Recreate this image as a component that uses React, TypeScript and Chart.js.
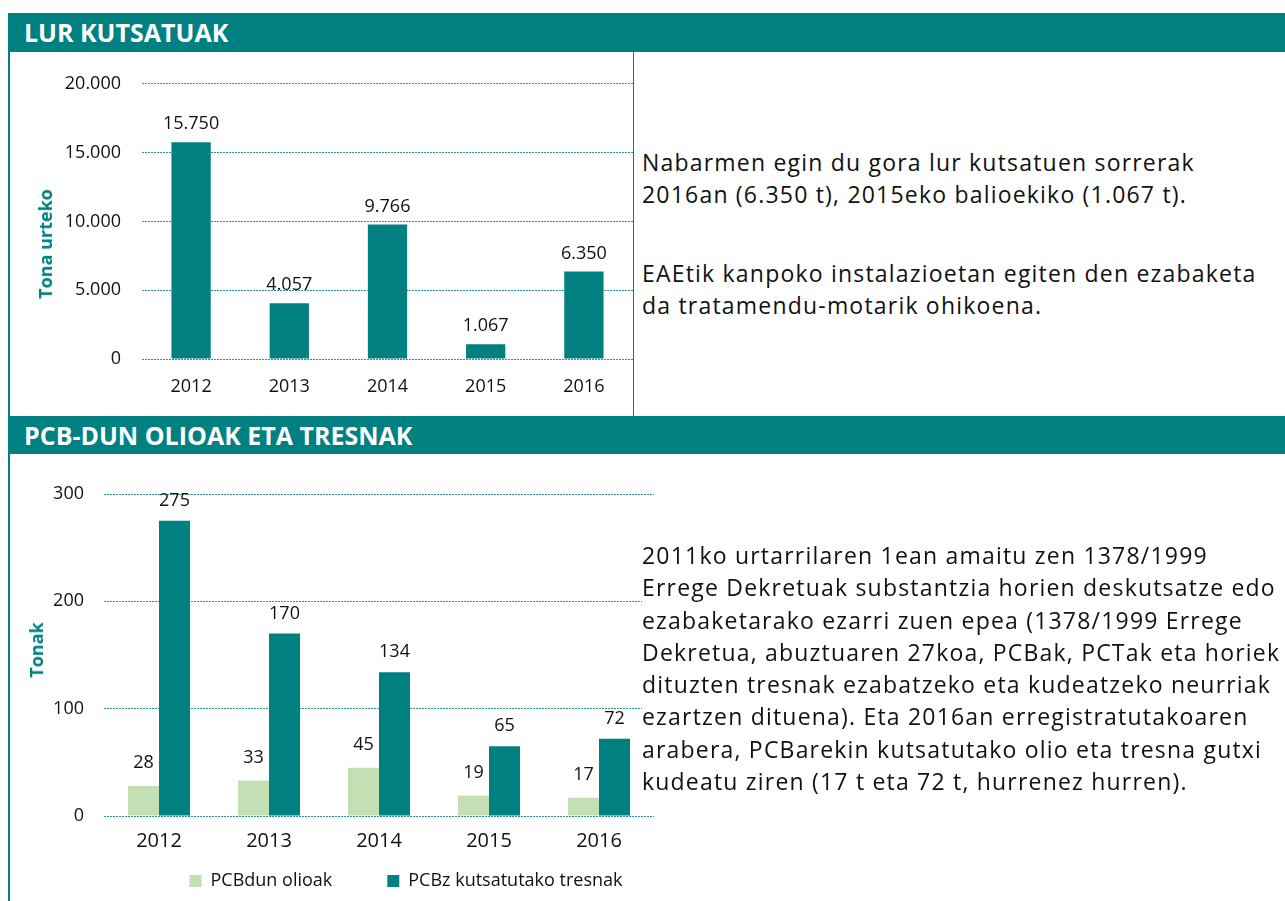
import React, { useEffect, useRef } from 'react';
import { Chart, registerables } from 'chart.js';

Chart.register(...registerables);

// ---------- data ----------
const years = ['2012', '2013', '2014', '2015', '2016'];
const soilTonnes = [15750, 4057, 9766, 1067, 6350];
const soilAxisMax = 20000;
const soilAxisStep = 5000;
const soilAxisTitle = 'Tona urteko';

const pcbSeriesNames = ['PCBdun olioak', 'PCBz kutsatutako tresnak'];
const pcbOilTonnes = [28, 33, 45, 19, 17];
const pcbEquipmentTonnes = [275, 170, 134, 65, 72];
const pcbAxisMax = 300;
const pcbAxisStep = 100;
const pcbAxisTitle = 'Tonak';

const soilHeading = 'LUR KUTSATUAK';
const pcbHeading = 'PCB-DUN OLIOAK ETA TRESNAK';
const soilTextParagraphs = [
  ['Nabarmen egin du gora lur kutsatuen sorrerak', '2016an (6.350 t), 2015eko balioekiko (1.067 t).'],
  ['EAEtik kanpoko instalazioetan egiten den ezabaketa', 'da tratamendu-motarik ohikoena.'],
];
const pcbTextLines = [
  '2011ko urtarrilaren 1ean amaitu zen 1378/1999',
  'Errege Dekretuak substantzia horien deskutsatze edo',
  'ezabaketarako ezarri zuen epea (1378/1999 Errege',
  'Dekretua, abuztuaren 27koa, PCBak, PCTak eta horiek',
  'dituzten tresnak ezabatzeko eta kudeatzeko neurriak',
  'ezartzen dituena). Eta 2016an erregistratutakoaren',
  'arabera, PCBarekin kutsatutako olio eta tresna gutxi',
  'kudeatu ziren (17 t eta 72 t, hurrenez hurren).',
];

// ---------- styles ----------
const TEAL = '#008080';
const LIGHT_GREEN = '#C4DFB4';
const GRID = '#2C9696';
const INK = '#111111';
const FONT = '"Open Sans", sans-serif';

Chart.defaults.font.family = FONT;

const fmt = (v: number) => String(v).replace(/\B(?=(\d{3})+(?!\d))/g, '.');

const valueLabels = {
  id: 'valueLabels',
  afterDatasetsDraw(chart: any, _args: any, opts: any) {
    const ctx = chart.ctx;
    ctx.save();
    ctx.font = `${opts.size}px ${FONT}`;
    ctx.fillStyle = opts.color;
    ctx.textAlign = 'center';
    ctx.textBaseline = 'alphabetic';
    chart.data.datasets.forEach((ds: any, di: number) => {
      const meta = chart.getDatasetMeta(di);
      const lift = opts.lift[di] ?? opts.lift[0];
      meta.data.forEach((bar: any, i: number) => {
        ctx.fillText(fmt(ds.data[i]), bar.x, bar.y - lift);
      });
    });
    ctx.restore();
  },
};

// moves the legend box after layout (centre x and top y, canvas coordinates)
const legendPlace = {
  id: 'legendPlace',
  afterLayout(chart: any, _args: any, opts: any) {
    const lg = chart.legend;
    if (!lg) return;
    if (opts.x != null) {
      const dx = opts.x - (lg.left + lg.right) / 2;
      lg.left += dx;
      lg.right += dx;
    }
    if (opts.top != null) {
      const dy = opts.top - lg.top;
      lg.top += dy;
      lg.bottom += dy;
    }
  },
};

function soilConfig(): any {
  return {
    type: 'bar',
    data: {
      labels: years,
      datasets: [
        {
          label: soilAxisTitle,
          data: soilTonnes,
          backgroundColor: TEAL,
          borderWidth: 0,
          categoryPercentage: 0.4,
          barPercentage: 1,
        },
      ],
    },
    options: {
      animation: false,
      responsive: false,
      maintainAspectRatio: false,
      layout: { padding: { top: 31, right: 0, bottom: 0, left: 0 } },
      plugins: {
        legend: { display: false },
        tooltip: { enabled: false },
        valueLabels: { size: 18, color: INK, lift: [13] },
      },
      scales: {
        x: {
          grid: { display: false },
          border: { display: false },
          ticks: { color: INK, font: { size: 18 }, padding: 9 },
          afterFit: (s: any) => {
            s.height = 56;
          },
        },
        y: {
          min: 0,
          max: soilAxisMax,
          ticks: {
            stepSize: soilAxisStep,
            color: INK,
            font: { size: 18 },
            padding: 21,
            callback: (v: any) => fmt(Number(v)),
          },
          grid: { color: GRID, drawTicks: false, lineWidth: 1 },
          border: { display: false, dash: [2, 1] },
          afterFit: (s: any) => {
            s.width = 132;
          },
        },
      },
    },
    plugins: [valueLabels],
  };
}

function pcbConfig(): any {
  return {
    type: 'bar',
    data: {
      labels: years,
      datasets: [
        {
          label: pcbSeriesNames[0],
          data: pcbOilTonnes,
          backgroundColor: LIGHT_GREEN,
          borderWidth: 0,
          categoryPercentage: 0.564,
          barPercentage: 1,
        },
        {
          label: pcbSeriesNames[1],
          data: pcbEquipmentTonnes,
          backgroundColor: TEAL,
          borderWidth: 0,
          categoryPercentage: 0.564,
          barPercentage: 1,
        },
      ],
    },
    options: {
      animation: false,
      responsive: false,
      maintainAspectRatio: false,
      layout: { padding: { top: 40, right: 0, bottom: 0, left: 0 } },
      plugins: {
        legend: {
          position: 'bottom',
          labels: {
            boxWidth: 12,
            boxHeight: 12,
            padding: 55,
            color: INK,
            font: { size: 18 },
          },
        },
        tooltip: { enabled: false },
        valueLabels: { size: 18, color: INK, lift: [18, 15] },
        legendPlace: { x: 396, top: 363 },
      },
      scales: {
        x: {
          grid: { display: false },
          border: { display: false },
          ticks: { color: INK, font: { size: 20 }, padding: 5 },
          afterFit: (s: any) => {
            s.height = 50;
          },
        },
        y: {
          min: 0,
          max: pcbAxisMax,
          ticks: {
            stepSize: pcbAxisStep,
            color: INK,
            font: { size: 18 },
            padding: 20,
          },
          grid: { color: GRID, drawTicks: false, lineWidth: 1 },
          border: { display: false, dash: [2, 1] },
          afterFit: (s: any) => {
            s.width = 94;
          },
        },
      },
    },
    plugins: [valueLabels, legendPlace],
  };
}

function ChartCanvas(props: { make: () => any; left: number; top: number; width: number; height: number }) {
  const ref = useRef<HTMLCanvasElement>(null);
  useEffect(() => {
    const chart = new Chart(ref.current as HTMLCanvasElement, props.make());
    return () => chart.destroy();
  }, []);
  return (
    <canvas
      ref={ref}
      width={props.width}
      height={props.height}
      style={{ position: 'absolute', left: props.left, top: props.top, width: props.width, height: props.height }}
    />
  );
}

const headerStyle = (top: number, height: number): React.CSSProperties => ({
  position: 'absolute',
  left: 8,
  top,
  width: 1277,
  height,
  background: TEAL,
  color: '#fff',
  fontWeight: 700,
  fontSize: 25,
  lineHeight: `${height}px`,
  paddingLeft: 16,
  boxSizing: 'border-box',
  whiteSpace: 'nowrap',
});

const axisTitleStyle = (cx: number, cy: number): React.CSSProperties => ({
  position: 'absolute',
  left: cx,
  top: cy,
  transform: 'translate(-50%, -50%) rotate(-90deg)',
  color: TEAL,
  fontWeight: 700,
  fontSize: 18,
  lineHeight: '20px',
  whiteSpace: 'nowrap',
});

const bodyText: React.CSSProperties = {
  position: 'absolute',
  fontSize: 23,
  lineHeight: '32.3px',
  letterSpacing: 1.2,
  color: INK,
  whiteSpace: 'nowrap',
};

export default function App() {
  return (
    <div
      style={{
        position: 'absolute',
        left: 0,
        top: 0,
        width: 1285,
        height: 901,
        overflow: 'hidden',
        background: '#fff',
        fontFamily: FONT,
      }}
    >
      <div style={{ position: 'absolute', left: 8, top: 52, width: 2, height: 849, background: TEAL }} />
      <div style={{ position: 'absolute', left: 633, top: 52, width: 1, height: 364, background: TEAL }} />
      <div style={headerStyle(13, 39)}>{soilHeading}</div>

      <ChartCanvas make={soilConfig} left={10} top={52} width={623} height={363} />
      <div style={axisTitleStyle(45, 244)}>{soilAxisTitle}</div>

      <div style={{ ...bodyText, left: 642, top: 146 }}>
        {soilTextParagraphs[0].map((l, i) => (
          <div key={i}>{l}</div>
        ))}
      </div>
      <div style={{ ...bodyText, left: 642, top: 257 }}>
        {soilTextParagraphs[1].map((l, i) => (
          <div key={i}>{l}</div>
        ))}
      </div>

      <div style={headerStyle(416, 38)}>{pcbHeading}</div>

      <ChartCanvas make={pcbConfig} left={10} top={454} width={644} height={495} />
      <div style={axisTitleStyle(36, 650)}>{pcbAxisTitle}</div>

      <div style={{ ...bodyText, left: 642, top: 539, background: '#fff' }}>
        {pcbTextLines.map((l, i) => (
          <div key={i}>{l}</div>
        ))}
      </div>
    </div>
  );
}
